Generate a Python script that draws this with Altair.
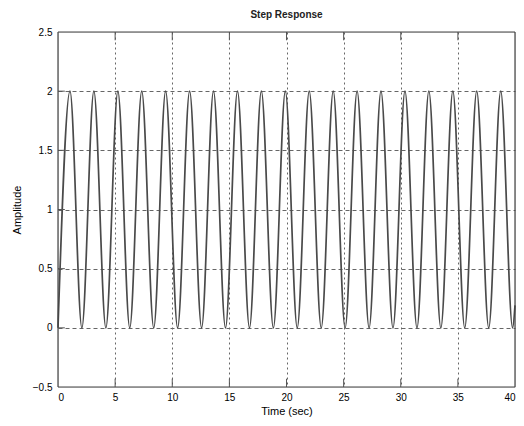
import altair as alt
import pandas as pd

# Step response: troughs (0) and peaks (2)
trough_times = [0, 2.09, 4.19, 6.28, 8.38, 10.47, 12.57, 14.66, 16.76, 18.85,
                20.94, 23.04, 25.13, 27.23, 29.32, 31.42, 33.51, 35.60, 37.70, 39.79]
peak_times = [1.05, 3.14, 5.24, 7.33, 9.42, 11.52, 13.61, 15.71, 17.80, 19.90,
              21.99, 24.09, 26.18, 28.27, 30.37, 32.46, 34.56, 36.65, 38.75]
end_time = [40.0]
end_value = [0.19]

x_ticks = [0, 5, 10, 15, 20, 25, 30, 35, 40]
y_ticks = [-0.5, 0, 0.5, 1, 1.5, 2, 2.5]

rows = [{"t": t, "a": 0.0} for t in trough_times] + \
       [{"t": t, "a": 2.0} for t in peak_times] + \
       [{"t": t, "a": v} for t, v in zip(end_time, end_value)]
df = pd.DataFrame(rows).sort_values("t")

xs = alt.Scale(domain=[0, 40], nice=False, zero=False)
ys = alt.Scale(domain=[-0.5, 2.5], nice=False, zero=False)

x_edge = {"condition": {"test": "datum.value <= 0 || datum.value >= 40", "value": 0}, "value": 1}
y_edge = {"condition": {"test": "datum.value <= -0.5 || datum.value >= 2.5", "value": 0}, "value": 1}

line = alt.Chart(df).mark_line(
    interpolate="monotone", color="#4a4a4a", strokeWidth=1.7
).encode(
    x=alt.X("t:Q", scale=xs, title="Time (sec)",
            axis=alt.Axis(values=x_ticks, grid=True, gridDash=[2, 3],
                          gridColor="#666", gridWidth=1, gridOpacity=x_edge,
                          tickSize=0, labelPadding=5, titlePadding=3,
                          domain=False, titleFontWeight="normal")),
    y=alt.Y("a:Q", scale=ys, title="Amplitude",
            axis=alt.Axis(values=y_ticks, grid=True, gridDash=[4, 3],
                          gridColor="#666", gridWidth=1, gridOpacity=y_edge,
                          tickSize=0, labelPadding=6, titlePadding=10,
                          domain=False, format=".1~f",
                          titleFontWeight="normal")),
)

xt = pd.DataFrame({"x": x_ticks[1:-1]})
yt = pd.DataFrame({"y": y_ticks[1:-1]})

bottom_ticks = alt.Chart(xt).mark_rule(color="#555", strokeWidth=1).encode(
    x=alt.X("x:Q", scale=xs), y=alt.datum(-0.5), y2=alt.datum(-0.43))
top_ticks = alt.Chart(xt).mark_rule(color="#555", strokeWidth=1).encode(
    x=alt.X("x:Q", scale=xs), y=alt.datum(2.5), y2=alt.datum(2.43))
left_ticks = alt.Chart(yt).mark_rule(color="#555", strokeWidth=1).encode(
    y=alt.Y("y:Q", scale=ys), x=alt.datum(0), x2=alt.datum(0.6))

frame_h = pd.DataFrame({"y": [-0.5, 2.5]})
frame_v = pd.DataFrame({"x": [0, 40]})
frame_hr = alt.Chart(frame_h).mark_rule(color="#444", strokeWidth=1.2).encode(
    y=alt.Y("y:Q", scale=ys), x=alt.datum(0), x2=alt.datum(40))
frame_vr = alt.Chart(frame_v).mark_rule(color="#444", strokeWidth=1.2).encode(
    x=alt.X("x:Q", scale=xs), y=alt.datum(-0.5), y2=alt.datum(2.5))

chart = alt.layer(line, bottom_ticks, top_ticks, left_ticks,
                  frame_hr, frame_vr).properties(
    width=457, height=355,
    title=alt.TitleParams("Step Response", fontSize=10, fontWeight="bold",
                          font="Liberation Sans", color="#222", offset=7),
    autosize=alt.AutoSizeParams(type="none"),
    padding={"left": 50, "top": 24, "right": 1, "bottom": 30},
).configure_view(
    stroke=None
).configure_axis(
    labelFont="Liberation Sans", labelFontSize=10, labelColor="#666",
    titleFont="Liberation Sans", titleFontSize=10, titleColor="#333",
    titleFontWeight="normal",
).configure(background="white")

chart.save("out.html", embed_options={"renderer": "svg", "actions": False})
